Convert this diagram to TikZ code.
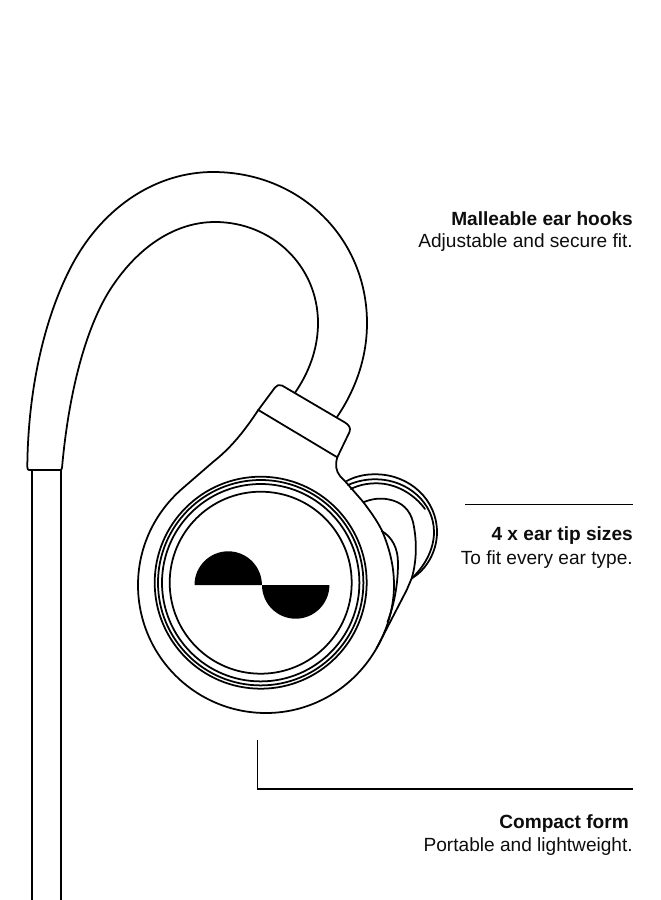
\documentclass[tikz,border=0pt]{standalone}
\usepackage{fontspec}
\setmainfont{Liberation Sans}
\begin{document}
\begin{tikzpicture}[x=0.03cm,y=-0.03cm,
  ln/.style={draw=black,line width=1.5pt,line join=round,line cap=round},
  lead/.style={draw=black,line width=0.9pt},
  capt/.style={anchor=east,font=\fontsize{16.3pt}{19pt}\selectfont,inner sep=0pt,text=black!95}]
\useasboundingbox (0,0) rectangle (660,900);
% cable
\draw[ln] (31.7,470) -- (31.7,900) (60.7,470) -- (60.7,900);
% hook
\draw[ln] (295,392.7) .. controls (308,374) and (318,350) .. (318,323) .. controls (318,266) and (272,222) .. (215,222)
  .. controls (176,222) and (137,246) .. (108,293) .. controls (83,335) and (68,400) .. (62,468)
  .. controls (62,469.5) and (61,470) .. (60,470) -- (29,470) .. controls (28,470) and (27.3,469) .. (27.3,467)
  .. controls (28,390) and (44,318) .. (72,265) .. controls (104,205) and (158,172) .. (213,172)
  .. controls (300,172) and (367,238) .. (367,323) .. controls (367,360) and (354,392) .. (337,417);
% collar
\draw[ln] (258.3,410) -- (275,387.5) .. controls (277,385) and (279,384.5) .. (282,385.5) -- (345,422.5)
  .. controls (349,425) and (351,428) .. (349.5,432) -- (337.3,457.3);
\draw[ln] (258.3,410) -- (337.3,457.3);
% ear tip
\draw[ln] (346.7,481) .. controls (356,476) and (366,474) .. (377,474.3) .. controls (410,475) and (437,500) .. (437,532)
  .. controls (437,552) and (426,570) .. (411.7,578.3);
\draw[ln] (348,485) .. controls (357,481) and (367,479) .. (377,479.3) .. controls (408,480) and (434,503) .. (434,532)
  .. controls (434,550) and (424,567) .. (411.7,578.3);
\draw[ln] (350.7,489) .. controls (359,485) and (367,483.3) .. (377,483.3) .. controls (396,483.5) and (414,494) .. (425,509);
\draw[ln] (363.3,502.3) .. controls (371,499) and (380,497.5) .. (389,499.5) .. controls (402,502) and (410,510) .. (413,522)
  .. controls (417,540) and (417,560) .. (411.7,578.3);
\draw[ln] (381.7,531) .. controls (392,537) and (398,548) .. (398,563) .. controls (398,585) and (394,605) .. (387.5,622);
\draw[ln] (411.7,578.3) -- (406.7,590) -- (376.7,648);
% body
\draw[ln] (258.3,410) .. controls (245,430) and (232,447) .. (213,462) -- (183,488)
  .. controls (154.5,512.4) and (138,547.5) .. (138,585) .. controls (138,655.7) and (195.3,713) .. (266,713)
  .. controls (312,713) and (354,688) .. (376.7,648) .. controls (387.6,628.9) and (394,607) .. (394,585)
  .. controls (394,565) and (389,547) .. (381.7,530) .. controls (376,519) and (370,511) .. (363,501.7)
  -- (346.7,483) -- (340,476) .. controls (336,471) and (335,465) .. (337.3,457.3);
% rings
\foreach \r in {106,102.7,98.7,91} \draw[ln] (260.7,582.7) circle[radius=\r];
% logo
\fill[black] (194.5,585) arc[start angle=180,end angle=0,x radius=33.7,y radius=-33.7] -- cycle;
\fill[black] (262,585) arc[start angle=180,end angle=360,x radius=33.7,y radius=-33.7] -- cycle;
% leaders
\coordinate (a1) at (465,504.5); \coordinate (a2) at (633,504.5);
\draw[lead] (a1) -- (a2);
\coordinate (b1) at (257.5,740); \coordinate (b2) at (257.5,789); \coordinate (b3) at (633,789);
\draw[lead] (b1) -- (b2) -- (b3);
% text
\node[capt] (t1) at (633,218.5) {\textbf{Malleable ear hooks}};
\node[capt] (t2) at (633,242.5) {Adjustable and secure fit.};
\node[capt] (t3) at (633,536) {\textbf{4 x ear tip sizes}};
\node[capt] (t4) at (633,559.5) {To fit every ear type.};
\node[capt] (t5) at (629,823.5) {\textbf{Compact form}};
\node[capt] (t6) at (633,846.5) {Portable and lightweight.};
\end{tikzpicture}
\end{document}
